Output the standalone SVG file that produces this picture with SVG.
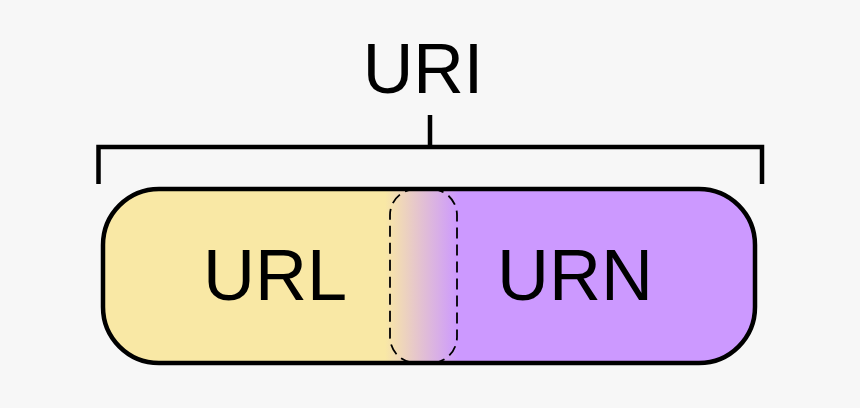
<svg xmlns="http://www.w3.org/2000/svg" width="860" height="408" viewBox="0 0 860 408">
<style>
.lbl{font-family:"Liberation Sans",Arial,sans-serif;font-size:72px;fill:#000;text-anchor:middle}
.br{fill:none;stroke:#000;stroke-width:4.5}
</style>
<defs>
<linearGradient id="g" x1="385" y1="0" x2="458" y2="0" gradientUnits="userSpaceOnUse">
<stop offset="0" stop-color="#f9e8a5"/>
<stop offset="1" stop-color="#cc99ff"/>
</linearGradient>
<clipPath id="c"><rect x="103" y="189" width="652" height="174" rx="56"/></clipPath>
</defs>
<rect width="860" height="408" fill="#f7f7f7"/>
<g id="uri">
<path class="br" d="M98.5,184 V147 H762 V184 M430,115 V147"/>
<text class="lbl" x="423" y="93" style="font-size:70px">URI</text>
</g>
<g id="body" clip-path="url(#c)">
<rect x="100" y="186" width="290" height="180" fill="#f9e8a5"/>
<rect x="385" y="186" width="375" height="180" fill="#cc99ff"/>
<rect x="385" y="186" width="73" height="180" fill="url(#g)"/>
</g>
<rect x="103" y="189" width="652" height="174" rx="56" fill="none" stroke="#000" stroke-width="4.5"/>
<g id="url"><text class="lbl" x="275" y="300">URL</text></g>
<g id="urn"><text class="lbl" x="575" y="300">URN</text></g>
<g id="overlap">
<rect x="390" y="189" width="67" height="174" rx="26" fill="none" stroke="#000" stroke-width="1.8" stroke-dasharray="11,6"/>
</g>
</svg>
